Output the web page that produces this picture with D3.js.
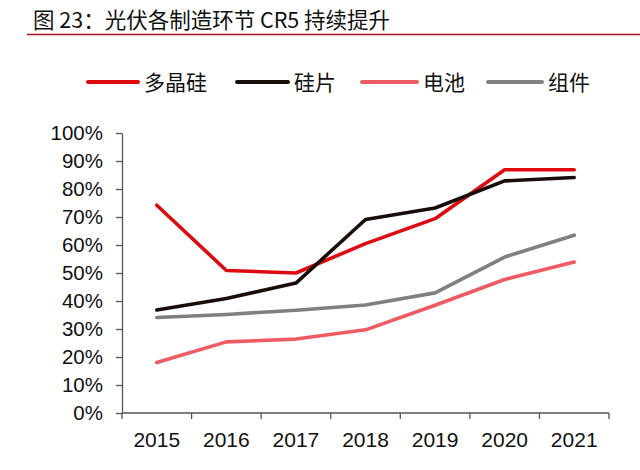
<!DOCTYPE html>
<html>
<head>
<meta charset="utf-8">
<script src="https://cdn.jsdelivr.net/npm/d3@7"></script>
<style>
  body { margin: 0; background: #fff; }
  text { font-family: "Liberation Sans", Arial, "Noto Sans CJK SC", sans-serif; }
  .cjk { font-family: "Noto Sans CJK SC", sans-serif; }
</style>
</head>
<body>
<svg id="chart" width="640" height="470"></svg>
<script>
// CR5 concentration by PV manufacturing stage, 2015-2021
const years = ["2015", "2016", "2017", "2018", "2019", "2020", "2021"];
const seriesNames = ["多晶硅", "硅片", "电池", "组件"];
const polysilicon = [74.2, 50.9, 50.0, 60.5, 69.4, 86.9, 86.9];
const wafer = [36.8, 40.9, 46.4, 69.1, 73.2, 82.9, 84.1];
const cell = [18.0, 25.4, 26.4, 29.7, 38.5, 47.7, 53.9];
const module_ = [34.1, 35.2, 36.7, 38.6, 42.9, 55.7, 63.5];
const yTicks = [0, 10, 20, 30, 40, 50, 60, 70, 80, 90, 100];

const colors = ["#dd0a0f", "#1b0c0c", "#ef5b63", "#808080"];
const seriesValues = [polysilicon, wafer, cell, module_];

const svg = d3.select("#chart");
const margin = { top: 133, right: 31, bottom: 57, left: 122 };
const width = 640 - margin.left - margin.right;
const height = 470 - margin.top - margin.bottom;

// title and rule under it
svg.append("text")
  .attr("class", "cjk")
  .attr("x", 33)
  .attr("y", 28)
  .style("font-size", "21.5px")
  .attr("fill", "#111")
  .text("图 23：光伏各制造环节 CR5 持续提升");

svg.append("line")
  .attr("x1", 27).attr("x2", 640)
  .attr("y1", 34.5).attr("y2", 34.5)
  .attr("stroke", "#b0101a")
  .attr("stroke-width", 1.6);

const g = svg.append("g")
  .attr("transform", `translate(${margin.left},${margin.top})`);

const xBand = d3.scaleBand().domain(years).range([0, width]);
const x = (d) => xBand(d) + xBand.bandwidth() / 2;
const y = d3.scaleLinear().domain([0, 100]).range([height, 0]);

// y axis
const yAxis = g.append("g")
  .call(d3.axisLeft(y).tickValues(yTicks).tickSize(6).tickSizeOuter(0)
    .tickFormat((d) => d + "%"));
yAxis.select(".domain").attr("stroke", "#555").attr("stroke-width", 1.3);
yAxis.selectAll(".tick line").attr("stroke", "#555").attr("stroke-width", 1.3);
yAxis.selectAll(".tick text")
  .attr("x", -19)
  .style("font-size", "20.5px")
  .style("font-family", "'Liberation Sans', Arial, sans-serif")
  .attr("fill", "#111");

// x axis: ticks at band edges
const xAxis = g.append("g")
  .attr("transform", `translate(0,${height})`);
xAxis.append("line")
  .attr("x1", 0).attr("x2", width)
  .attr("y1", 0).attr("y2", 0)
  .attr("stroke", "#555").attr("stroke-width", 1.3);
xAxis.selectAll(".edge")
  .data(years.concat(["end"]))
  .enter()
  .append("line")
  .attr("class", "edge")
  .attr("x1", (d, i) => i * xBand.step())
  .attr("x2", (d, i) => i * xBand.step())
  .attr("y1", 0).attr("y2", 6)
  .attr("stroke", "#555").attr("stroke-width", 1.3);
xAxis.selectAll(".label")
  .data(years)
  .enter()
  .append("text")
  .attr("class", "label")
  .attr("x", (d) => x(d))
  .attr("y", 34)
  .attr("text-anchor", "middle")
  .style("font-size", "21px")
  .attr("fill", "#111")
  .text((d) => d);

// series lines
const line = d3.line()
  .x((d, i) => x(years[i]))
  .y((d) => y(d));

g.selectAll(".series")
  .data(seriesValues)
  .enter()
  .append("path")
  .attr("class", "series")
  .attr("fill", "none")
  .attr("stroke", (d, i) => colors[i])
  .attr("stroke-width", 3.6)
  .attr("stroke-linejoin", "round")
  .attr("stroke-linecap", "round")
  .attr("d", line);

// legend
const legendX = [88, 237, 362, 488];
const legendLen = [50, 51, 55, 54];
const legend = svg.append("g");
seriesNames.forEach((name, i) => {
  legend.append("line")
    .attr("x1", legendX[i]).attr("x2", legendX[i] + legendLen[i])
    .attr("y1", 82).attr("y2", 82)
    .attr("stroke", colors[i])
    .attr("stroke-width", 4)
    .attr("stroke-linecap", "round");
  legend.append("text")
    .attr("class", "cjk")
    .attr("x", legendX[i] + legendLen[i] + 6)
    .attr("y", 90)
    .style("font-size", "21px")
    .attr("fill", "#111")
    .text(name);
});
</script>
</body>
</html>
